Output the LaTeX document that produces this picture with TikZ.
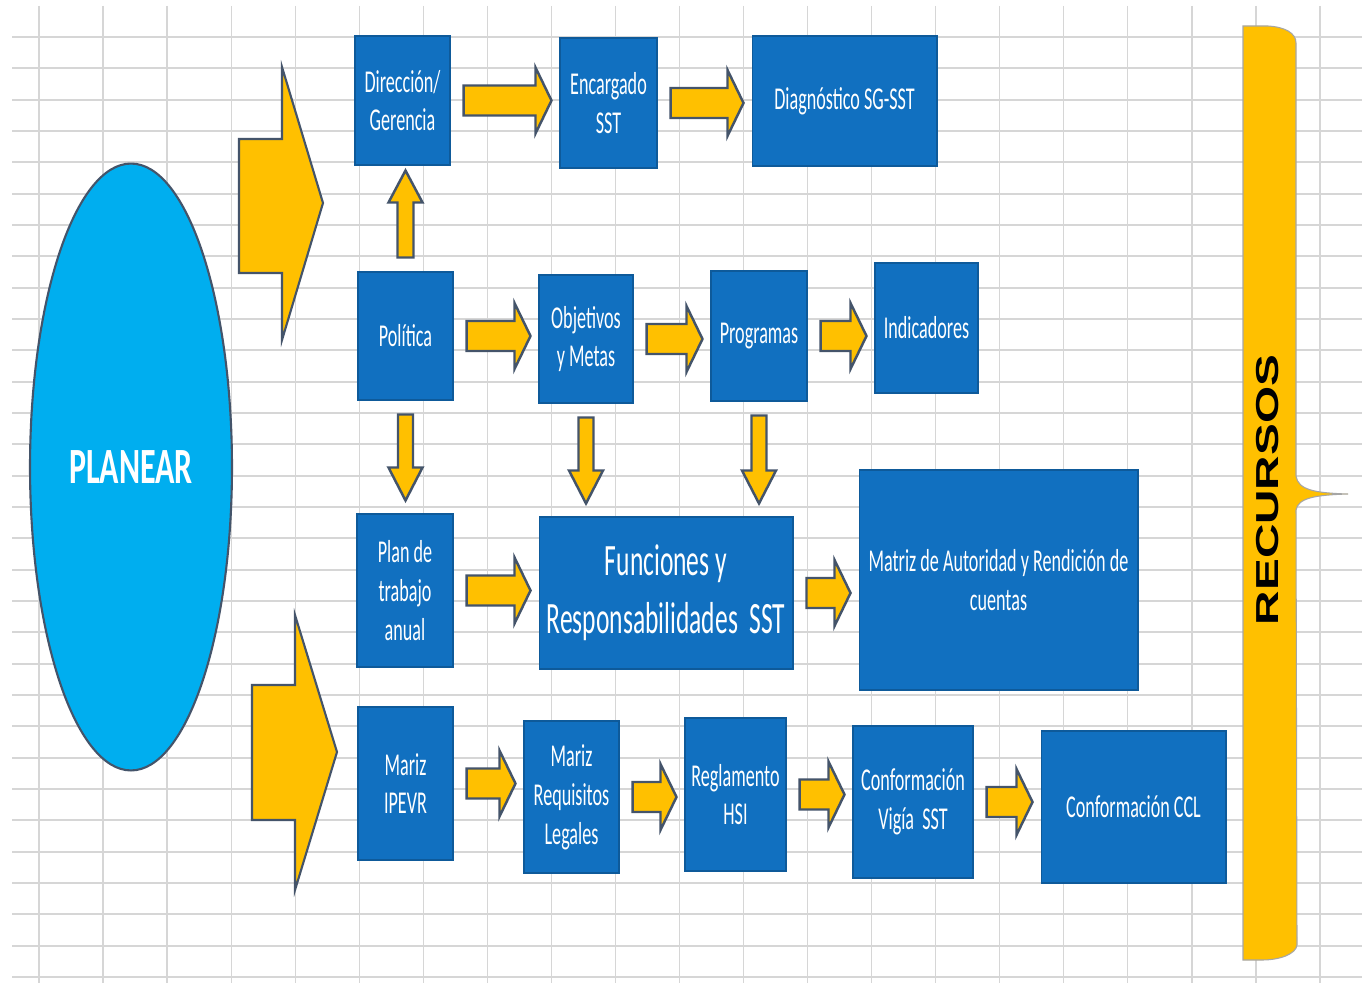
\documentclass[tikz,border=0pt]{standalone}
\usepackage{fontspec}
\usetikzlibrary{calc,shapes.geometric}
\newfontfamily\cajafont[FakeStretch=0.57]{Carlito}
\newfontfamily\planfont[FakeStretch=0.63]{Carlito}
\newfontfamily\recfont{Liberation Sans}
\definecolor{Rejilla}{HTML}{D6D6D6}
\definecolor{Celeste}{HTML}{00AEEF}
\definecolor{Azul}{HTML}{1170C0}
\definecolor{Amarillo}{HTML}{FFC000}
\definecolor{Pizarra}{HTML}{44546A}

\newcommand{\flechaDer}[2]{%
  \draw[flecha] let \p1=(#1.east), \p2=(#2.west) in
    (\x1+0.26cm,\y1+0.3cm) -- (\x2-0.48cm,\y1+0.3cm) -- (\x2-0.48cm,\y1+0.66cm)
    -- (\x2-0.16cm,\y1) -- (\x2-0.48cm,\y1-0.66cm) -- (\x2-0.48cm,\y1-0.3cm)
    -- (\x1+0.26cm,\y1-0.3cm) -- cycle;}
\newcommand{\flechaAbajo}[2]{%
  \draw[flecha] let \p1=(#1.south), \p2=(#2.north) in
    (\x1-0.15cm,\y1-0.28cm) -- (\x1-0.15cm,\y2+0.92cm) -- (\x1-0.34cm,\y2+0.92cm)
    -- (\x1,\y2+0.26cm) -- (\x1+0.34cm,\y2+0.92cm) -- (\x1+0.15cm,\y2+0.92cm)
    -- (\x1+0.15cm,\y1-0.28cm) -- cycle;}
\newcommand{\flechaArriba}[2]{%
  \draw[flecha] let \p1=(#1.north), \p2=(#2.south) in
    (\x1-0.16cm,\y1+0.28cm) -- (\x1-0.16cm,\y2-0.74cm) -- (\x1-0.34cm,\y2-0.74cm)
    -- (\x1,\y2-0.1cm) -- (\x1+0.34cm,\y2-0.74cm) -- (\x1+0.16cm,\y2-0.74cm)
    -- (\x1+0.16cm,\y1+0.28cm) -- cycle;}

\begin{document}
\begin{tikzpicture}[x=0.02cm,y=-0.02cm,
  caja/.style={fill=Azul,draw=Azul!80!black,line width=0.6pt,text=white,align=center,
    inner sep=0pt,font=\cajafont\fontsize{18.1}{22.1}\selectfont},
  flecha/.style={fill=Amarillo,draw=Pizarra,line width=1.4pt,line join=miter},
  bloque/.style={fill=Amarillo,draw=Pizarra,line width=1.2pt,line join=miter}]
\useasboundingbox (0,0) rectangle (1372,983);
\fill[white] (0,0) rectangle (1372,983);
\foreach \i in {0,...,30}
  \draw[Rejilla,line width=1.2pt] (12,{37+31.33*\i}) -- (1362,{37+31.33*\i});
\foreach \i in {0,...,20}
  \draw[Rejilla,line width=0.7pt] ({39+64.05*\i},6) -- ({39+64.05*\i},983);

\node[ellipse,fill=Celeste,draw=Pizarra,line width=1.2pt,minimum width=4.04cm,minimum height=12.14cm,
  text=white,font=\planfont\bfseries\fontsize{28.9}{30}\selectfont] (planear) at (131,467) {PLANEAR};

\draw[bloque] (239,139) -- (282,139) -- (282,67) -- (323,203) -- (282,340) -- (282,273) -- (239,273) -- cycle;
\draw[bloque] (252,685) -- (295,685) -- (295,615) -- (337,752) -- (295,890) -- (295,820) -- (252,820) -- cycle;

\draw[fill=Amarillo,draw=gray!70,line width=0.6pt] (1243,26) -- (1268,26)
  .. controls (1285,27) and (1296,33) .. (1296,43) -- (1296,476)
  .. controls (1298,490) and (1315,493) .. (1348,494)
  .. controls (1315,495) and (1298,498) .. (1296,510) -- (1297,945)
  .. controls (1296,954) and (1280,960) .. (1262,960) -- (1243,960) -- cycle;
\node[rotate=90,font=\recfont\bfseries\fontsize{18.1}{20}\selectfont] (recursos) at (1268,490)
  {\scalebox{1.5}[1]{RECURSOS}};

\node[caja,minimum width=1.90cm,minimum height=2.58cm] (dir) at (402.5,100.5) {Dirección/\\Gerencia};
\node[caja,minimum width=1.94cm,minimum height=2.60cm] (enc) at (608.5,103) {Encargado\\SST};
\node[caja,minimum width=3.70cm,minimum height=2.60cm] (diag) at (844.5,101) {Diagnóstico SG-SST};
\node[caja,minimum width=1.90cm,minimum height=2.56cm] (pol) at (405.5,336) {Política};
\node[caja,minimum width=1.88cm,minimum height=2.56cm] (obj) at (586,339) {Objetivos\\y Metas};
\node[caja,minimum width=1.92cm,minimum height=2.60cm] (prog) at (759,336) {Programas};
\node[caja,minimum width=2.06cm,minimum height=2.60cm] (ind) at (926.5,328) {Indicadores};
\node[caja,minimum width=1.92cm,minimum height=3.06cm] (plan) at (405,590.5) {Plan de\\trabajo\\anual};
\node[caja,minimum width=5.08cm,minimum height=3.04cm,font=\cajafont\fontsize{25.5}{32.9}\selectfont] (func) at (666,593)
  {Funciones y\\Responsabilidades\ \ SST};
\node[caja,minimum width=5.58cm,minimum height=4.40cm] (matriz) at (998.5,580)
  {Matriz de Autoridad y Rendición de\\cuentas};
\node[caja,minimum width=1.90cm,minimum height=3.06cm] (ipevr) at (405.5,783.5) {Mariz\\IPEVR};
\node[caja,minimum width=1.90cm,minimum height=3.04cm] (req) at (571.5,797) {Mariz\\Requisitos\\Legales};
\node[caja,minimum width=2.02cm,minimum height=3.06cm] (regl) at (735.5,794.5) {Reglamento\\HSI};
\node[caja,minimum width=2.40cm,minimum height=3.04cm] (vigia) at (913,802) {Conformación\\Vigía\ \ SST};
\node[caja,minimum width=3.70cm,minimum height=3.04cm] (ccl) at (1133.5,807) {Conformación CCL};

\flechaDer{dir}{enc}
\flechaDer{enc}{diag}
\flechaDer{pol}{obj}
\flechaDer{obj}{prog}
\flechaDer{prog}{ind}
\flechaDer{plan}{func}
\flechaDer{func}{matriz}
\flechaDer{ipevr}{req}
\flechaDer{req}{regl}
\flechaDer{regl}{vigia}
\flechaDer{vigia}{ccl}
\flechaArriba{pol}{dir}
\flechaAbajo{pol}{plan}
\flechaAbajo{obj}{func}
\flechaAbajo{prog}{func}
\end{tikzpicture}
\end{document}
